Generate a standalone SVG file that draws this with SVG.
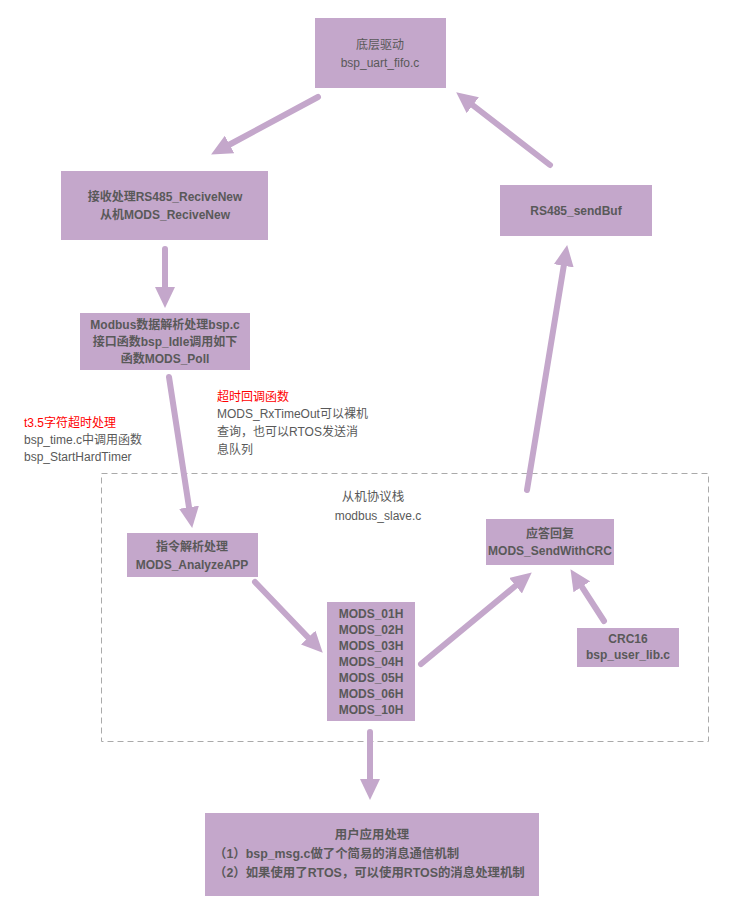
<svg xmlns="http://www.w3.org/2000/svg" width="729" height="916" viewBox="0 0 729 916">
<style>
.box{fill:#c4a7cb;}
.t{font-family:"Liberation Sans","Noto Sans CJK SC",sans-serif;font-size:12px;fill:#595959;text-anchor:middle;}
.b{font-weight:bold;}
.n{font-family:"Liberation Sans","Noto Sans CJK SC",sans-serif;font-size:12px;fill:#595959;}
.r{fill:#ff0000;}
.c{stroke:#c4a7cb;stroke-width:6;stroke-linecap:round;fill:none;marker-end:url(#ah);}
</style>
<defs>
<marker id="ah" viewBox="0 -10 21 20" refX="2" refY="0" markerWidth="21" markerHeight="20" markerUnits="userSpaceOnUse" orient="auto">
<path d="M0,-10 L21,0 L0,10 z" fill="#c4a7cb"/>
</marker>
</defs>
<rect width="729" height="916" fill="#ffffff"/>
<g id="container">
<rect x="101.5" y="473.5" width="607" height="268" fill="none" stroke="#aaaaaa" stroke-width="1" stroke-dasharray="6,4"/>
<text class="t" x="373" y="501" style="font-size:12.5px">从机协议栈</text>
<text class="t" x="378" y="520">modbus_slave.c</text>
</g>
<g id="driver">
<rect class="box" x="315" y="18" width="131" height="70"/>
<text class="t" x="380" y="49">底层驱动</text>
<text class="t" x="380" y="67">bsp_uart_fifo.c</text>
</g>
<g id="receive">
<rect class="box" x="61" y="171" width="207" height="69"/>
<text class="t b" x="165" y="201">接收处理RS485_ReciveNew</text>
<text class="t b" x="165" y="219">从机MODS_ReciveNew</text>
</g>
<g id="parse">
<rect class="box" x="80" y="313" width="170" height="57"/>
<text class="t b" x="165" y="329">Modbus数据解析处理bsp.c</text>
<text class="t b" x="165" y="346">接口函数bsp_Idle调用如下</text>
<text class="t b" x="165" y="363">函数MODS_Poll</text>
</g>
<g id="sendbuf">
<rect class="box" x="500" y="185" width="152" height="51"/>
<text class="t b" x="576" y="215">RS485_sendBuf</text>
</g>
<g id="note-timeout">
<text class="n r" x="24" y="427">t3.5字符超时处理</text>
<text class="n" x="24" y="444">bsp_time.c中调用函数</text>
<text class="n" x="24" y="461">bsp_StartHardTimer</text>
</g>
<g id="note-callback">
<text class="n r" x="217" y="401">超时回调函数</text>
<text class="n" x="217" y="418">MODS_RxTimeOut可以裸机</text>
<text class="n" x="217" y="436">查询，也可以RTOS发送消</text>
<text class="n" x="217" y="454">息队列</text>
</g>
<g id="analyze">
<rect class="box" x="127" y="533" width="131" height="44"/>
<text class="t b" x="192" y="551">指令解析处理</text>
<text class="t b" x="192" y="569">MODS_AnalyzeAPP</text>
</g>
<g id="mods">
<rect class="box" x="327" y="602" width="88" height="119"/>
<text class="t b" x="371" y="618">MODS_01H</text>
<text class="t b" x="371" y="634">MODS_02H</text>
<text class="t b" x="371" y="650">MODS_03H</text>
<text class="t b" x="371" y="666">MODS_04H</text>
<text class="t b" x="371" y="682">MODS_05H</text>
<text class="t b" x="371" y="698">MODS_06H</text>
<text class="t b" x="371" y="714">MODS_10H</text>
</g>
<g id="reply">
<rect class="box" x="486" y="519" width="128" height="46"/>
<text class="t b" x="550" y="538">应答回复</text>
<text class="t b" x="550" y="555">MODS_SendWithCRC</text>
</g>
<g id="crc">
<rect class="box" x="577" y="628" width="102" height="39"/>
<text class="t b" x="628" y="643">CRC16</text>
<text class="t b" x="628" y="659">bsp_user_lib.c</text>
</g>
<g id="user">
<rect class="box" x="205" y="813" width="334" height="83"/>
<text class="t b" x="372" y="839" style="font-size:12.4px">用户应用处理</text>
<text class="n b" x="214" y="858" style="font-size:12.4px">（1）bsp_msg.c做了个简易的消息通信机制</text>
<text class="n b" x="214" y="877" style="font-size:12.4px">（2）如果使用了RTOS，可以使用RTOS的消息处理机制</text>
</g>
<g id="connectors">
<line class="c" x1="318" y1="97" x2="227.8" y2="145.5"/>
<line class="c" x1="550" y1="165" x2="471.2" y2="104"/>
<line class="c" x1="165" y1="249" x2="165" y2="289"/>
<line class="c" x1="527" y1="490" x2="564.1" y2="263.8"/>
<line class="c" x1="169" y1="377" x2="189.3" y2="509.2"/>
<line class="c" x1="255" y1="582" x2="309.6" y2="639"/>
<line class="c" x1="421" y1="664" x2="517.1" y2="584.5"/>
<line class="c" x1="604" y1="621" x2="580.8" y2="585.1"/>
<line class="c" x1="370" y1="732" x2="370" y2="781"/>
</g>
</svg>
